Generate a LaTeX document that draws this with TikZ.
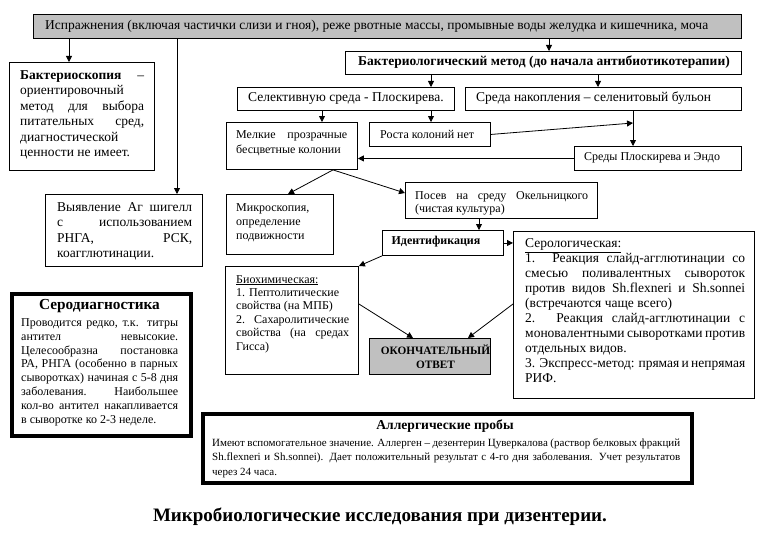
\documentclass[tikz,border=0pt]{standalone}
\usepackage{fontspec}
\setmainfont{Liberation Serif}
\usetikzlibrary{arrows.meta,calc}
\definecolor{boxgray}{RGB}{192,192,192}
\hyphenpenalty=10000
\exhyphenpenalty=10000
\newcommand{\fsz}[2]{\fontsize{#1}{#2}\selectfont}
\tikzset{
  box/.style={draw, line width=0.9pt, inner sep=0pt, anchor=north west},
  thickbox/.style={draw, line width=3.6pt, inner sep=0pt, anchor=north west},
  txt/.style={inner sep=0pt, anchor=north west, align=justify},
  ltxt/.style={inner sep=0pt, anchor=west},
  arr/.style={line width=0.8pt, -{Triangle[length=6pt,width=6pt]}},
  ln/.style={line width=0.8pt},
}
\begin{document}
\begin{tikzpicture}[x=1pt,y=-1pt]
\useasboundingbox[fill=white] (0,0) rectangle (766,535);
% boxes
\node[box, fill=boxgray, minimum width=708pt, minimum height=24pt] (top) at (33,14) {};
\node[box, minimum width=396pt, minimum height=23pt] (bmethod) at (345,51) {};
\node[box, minimum width=217pt, minimum height=23pt] (selek) at (237,87) {};
\node[box, minimum width=276pt, minimum height=23pt] (nakop) at (465,87) {};
\node[box, minimum width=121pt, minimum height=24pt] (rost) at (369,122) {};
\node[box, minimum width=131pt, minimum height=47pt] (melk) at (226,122) {};
\node[box, minimum width=167pt, minimum height=24pt] (endo) at (574,146) {};
\node[box, minimum width=145pt, minimum height=108pt] (bakt) at (9,62) {};
\node[box, minimum width=157pt, minimum height=72pt] (vyavl) at (45,194) {};
\node[box, minimum width=107pt, minimum height=60pt] (micro) at (226,194) {};
\node[box, minimum width=192pt, minimum height=36pt] (posev) at (405,182) {};
\node[box, minimum width=121pt, minimum height=25pt] (ident) at (382,230) {};
\node[box, minimum width=241pt, minimum height=167pt] (sero) at (513,231) {};
\node[box, minimum width=133pt, minimum height=108pt] (bioch) at (225,266) {};
\node[box, fill=boxgray, minimum width=121pt, minimum height=36pt] (final) at (369,338) {};
\node[thickbox, minimum width=179pt, minimum height=142pt] (serod) at (10,292) {};
\node[thickbox, minimum width=489pt, minimum height=69pt] (allerg) at (201,412) {};
% texts
\node[ltxt, font=\fsz{13.5}{15}] (top-t) at (45,26) {Испражнения (включая частички слизи и гноя), реже рвотные массы, промывные воды желудка и кишечника, моча};
\node[inner sep=0pt, font=\fsz{13.5}{15}\bfseries] (bmethod-t) at (544,62.5) {Бактериологический метод (до начала антибиотикотерапии)};
\node[ltxt, font=\fsz{13.5}{15}] (selek-t) at (248,98.5) {Селективную среда - Плоскирева.};
\node[ltxt, font=\fsz{13.5}{15}] (nakop-t) at (476,98.5) {Среда накопления – селенитовый бульон};
\node[ltxt, font=\fsz{12}{14}] (rost-t) at (380,134) {Роста колоний нет};
\node[ltxt, font=\fsz{12}{14}] (endo-t) at (584,158) {Среды Плоскирева и Эндо};
\node[txt, text width=111pt, font=\fsz{12}{15.5}] (melk-t) at (236,130) {Мелкие прозрачные\linebreak бесцветные колонии};
\node[txt, text width=124pt, font=\fsz{13.5}{15.4}] (bakt-t) at (20,70.5) {\textbf{Бактериоскопия} –\linebreak ориентировочный\linebreak метод для выбора\linebreak питательных сред,\linebreak диагностической\linebreak ценности не имеет.};
\node[txt, text width=135pt, font=\fsz{13.5}{15.3}] (vyavl-t) at (57,202.5) {Выявление Аг шигелл\linebreak с использованием\linebreak РНГА, РСК,\linebreak коагглютинации.};
\node[txt, align=left, text width=95pt, font=\fsz{12}{14}] (micro-t) at (236,203) {Микроскопия,\\ определение\\ подвижности};
\node[txt, text width=173pt, font=\fsz{12}{13}] (posev-t) at (415,191) {Посев на среду Окельницкого\linebreak (чистая культура)};
\node[inner sep=0pt, font=\fsz{12}{14}\bfseries] (ident-t) at (436,242) {Идентификация};
\node[txt, text width=220pt, font=\fsz{13.5}{15}] (sero-t) at (525,238.5) {\underline{Серологическая:}\\ 1. Реакция слайд-агглютинации со\linebreak смесью поливалентных сывороток\linebreak против видов Sh.flexneri и Sh.sonnei\linebreak (встречаются чаще всего)\\ 2. Реакция слайд-агглютинации с\linebreak моновалентными сыворотками против\linebreak отдельных видов.\\ 3. Экспресс-метод: прямая и непрямая\linebreak РИФ.};
\node[txt, text width=113pt, font=\fsz{12}{13.4}] (bioch-t) at (236,275) {\underline{Биохимическая:}\\ 1. Пептолитические\\ свойства (на МПБ)\\ 2. Сахаролитические\linebreak свойства (на средах\linebreak Гисса)};
\node[inner sep=0pt, align=center, font=\fsz{11.3}{13.5}\bfseries] (final-t) at (435.5,356.5) {ОКОНЧАТЕЛЬНЫЙ\\ОТВЕТ};
\node[inner sep=0pt, font=\fsz{15.3}{17}\bfseries] (serod-h) at (99.5,306) {Серодиагностика};
\node[txt, text width=157pt, font=\fsz{12}{13.8}] (serod-t) at (21,318.5) {Проводится редко, т.к. титры\linebreak антител невысокие.\linebreak Целесообразна постановка\linebreak РА, РНГА (особенно в парных\linebreak сыворотках) начиная с 5-8 дня\linebreak заболевания. Наибольшее\linebreak кол-во антител накапливается\linebreak в сыворотке ко 2-3 неделе.};
\node[inner sep=0pt, font=\fsz{13.6}{15}\bfseries] (allerg-h) at (445,426) {Аллергические пробы};
\node[txt, text width=468pt, font=\fsz{11}{14.5}] (allerg-t) at (212,438) {Имеют вспомогательное значение. Аллерген – дезентерин Цуверкалова (раствор белковых фракций\linebreak Sh.flexneri и Sh.sonnei). Дает положительный результат с 4-го дня заболевания. Учет результатов\linebreak через 24 часа.};
\node[inner sep=0pt, font=\fsz{19}{22}\bfseries] (caption) at (380,517) {Микробиологические исследования при дизентерии.};
% connectors
\draw[arr] (top.south -| 69,0) -- (bakt.north -| 69,0);
\draw[arr] (top.south -| 177,0) -- (vyavl.north -| 177,0);
\draw[arr] (top.south -| 549,0) -- (bmethod.north -| 549,0);
\draw[arr] (bmethod.south -| 431,0) -- (selek.north -| 431,0);
\draw[arr] (bmethod.south -| 598,0) -- (nakop.north -| 598,0);
\draw[arr] (selek.south -| 322,0) -- (melk.north -| 322,0);
\draw[arr] (selek.south -| 431,0) -- (rost.north -| 431,0);
\draw[arr] (nakop.south -| 633,0) -- (endo.north -| 633,0);
\coordinate (j1) at (633,123);
\draw[arr] (rost.east) -- (j1);
\draw[arr] (endo.west) -- (melk.east |- endo.west);
\draw[arr] (melk.south -| 333,0) -- (micro.north -| 288,0);
\draw[arr] (melk.south -| 333,0) -- (posev.west |- 0,193);
\draw[arr] (posev.south -| 479,0) -- (ident.north -| 479,0);
\draw[arr] (ident.east) -- (sero.west |- ident.east);
\draw[arr] (ident.south west) -- (bioch.north east);
\draw[arr] (bioch.east |- 0,304) -- (final.north -| 413,0);
\draw[arr] (sero.west |- 0,304) -- (final.north -| 468,0);
\end{tikzpicture}
\end{document}
